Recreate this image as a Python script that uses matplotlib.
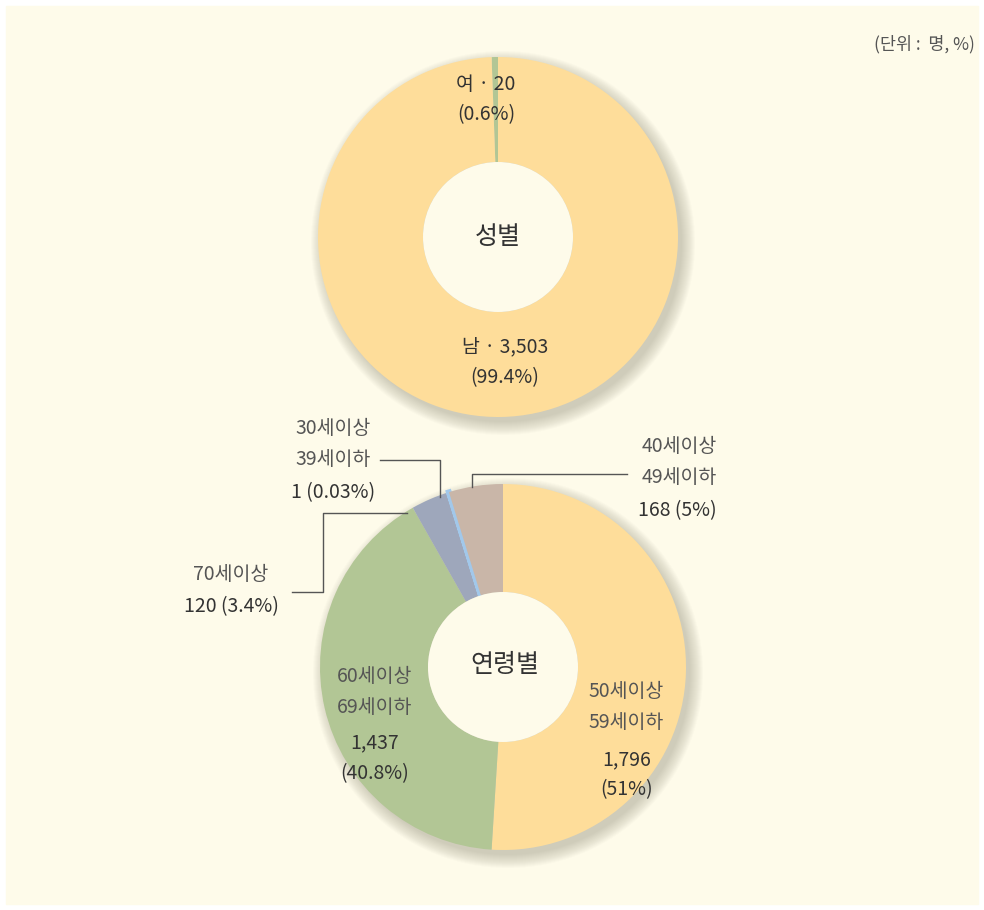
import matplotlib
matplotlib.use("Agg")
import matplotlib.pyplot as plt
from matplotlib.patches import Rectangle, Circle

plt.rcParams['font.family'] = ['Noto Sans CJK KR', 'DejaVu Sans']

# 성별
sex_labels = ['여', '남']
sex_values = [20, 3503]
sex_pct = ['0.6%', '99.4%']
sex_colors = ['#b2c695', '#fedd9a']

# 연령별 (clockwise from top)
age_labels = ['50세이상\n59세이하', '60세이상\n69세이하', '70세이상', '30세이상\n39세이하', '40세이상\n49세이하']
age_values = [1796, 1437, 120, 1, 168]
age_pct = ['51%', '40.8%', '3.4%', '0.03%', '5%']
age_colors = ['#fedd9a', '#b2c695', '#9ea7bb', '#a2c8ea', '#c9b6a8']

W, H = 984, 910
BG = '#fefbea'
TXT = '#333333'
SUB = '#555555'

fig = plt.figure(figsize=(W / 100, H / 100), dpi=100)
fig.patch.set_facecolor('white')
ax = fig.add_axes([0, 0, 1, 1])


def Y(y):
    return H - y


def shadow(cx, cy, r, rin):
    # soft drop shadow towards lower right, hole covered afterwards
    for k in range(14):
        ax.add_patch(Circle((cx + 5, cy - 6), r + 12 - k * 1.0, color='#6b6a55',
                            alpha=0.022, lw=0, zorder=1))
    ax.add_patch(Circle((cx, cy), rin, color=BG, lw=0, zorder=3))


ax.add_patch(Rectangle((6, 6), W - 12, H - 12, color=BG, zorder=0))

# top donut
c1 = (498, Y(237))
shadow(c1[0], c1[1], 180, 75)
ax.pie(sex_values, colors=sex_colors, startangle=90, counterclock=True,
       center=c1, radius=180,
       wedgeprops=dict(width=105, linewidth=0, zorder=2))

# bottom donut
c2 = (503, Y(667))
shadow(c2[0], c2[1], 183, 75)
wedges, _ = ax.pie(age_values, colors=age_colors, startangle=90, counterclock=False,
                   center=c2, radius=183,
                   wedgeprops=dict(width=108, linewidth=0, zorder=2))
# the 1-person slice is a hairline, give it an edge so it shows
wedges[3].set_edgecolor(age_colors[3])
wedges[3].set_linewidth(4)

ax.set_xlim(0, W)
ax.set_ylim(0, H)
ax.set_aspect('equal')
ax.axis('off')

fs = 14
ax.text(975, Y(44), '(단위 :  명, %)', ha='right', va='center', fontsize=12.5, color=SUB)

ax.text(c1[0], c1[1], '성별', ha='center', va='center', fontsize=18, color=TXT, zorder=5)
ax.text(c2[0] + 2, Y(665), '연령별', ha='center', va='center', fontsize=18, color=TXT, zorder=5)

# sex labels
ax.text(486, Y(85), f'{sex_labels[0]} · {sex_values[0]:,}', ha='center', va='center', fontsize=fs, color=TXT)
ax.text(486, Y(115), f'({sex_pct[0]})', ha='center', va='center', fontsize=fs, color=TXT)
ax.text(505, Y(347), f'{sex_labels[1]} · {sex_values[1]:,}', ha='center', va='center', fontsize=fs, color=TXT)
ax.text(505, Y(378), f'({sex_pct[1]})', ha='center', va='center', fontsize=fs, color=TXT)

# age labels inside
ax.text(375, Y(692), age_labels[1], ha='center', va='center', fontsize=fs, color=SUB, linespacing=1.6)
ax.text(375, Y(743), f'{age_values[1]:,}', ha='center', va='center', fontsize=fs, color=TXT)
ax.text(375, Y(774), f'({age_pct[1]})', ha='center', va='center', fontsize=fs, color=TXT)
ax.text(626, Y(707), age_labels[0], ha='center', va='center', fontsize=fs, color=SUB, linespacing=1.6)
ax.text(627, Y(760), f'{age_values[0]:,}', ha='center', va='center', fontsize=fs, color=TXT)
ax.text(627, Y(790), f'({age_pct[0]})', ha='center', va='center', fontsize=fs, color=TXT)

# age labels outside
ax.text(333, Y(444), age_labels[3], ha='center', va='center', fontsize=fs, color=SUB, linespacing=1.6)
ax.text(333, Y(493), f'{age_values[3]:,} ({age_pct[3]})', ha='center', va='center', fontsize=fs, color=TXT)
ax.text(679, Y(462), age_labels[4], ha='center', va='center', fontsize=fs, color=SUB, linespacing=1.6)
ax.text(677, Y(511), f'{age_values[4]:,} ({age_pct[4]})', ha='center', va='center', fontsize=fs, color=TXT)
ax.text(231, Y(574), age_labels[2], ha='center', va='center', fontsize=fs, color=SUB)
ax.text(231, Y(607), f'{age_values[2]:,} ({age_pct[2]})', ha='center', va='center', fontsize=fs, color=TXT)

# leader lines
lk = dict(color='#555555', lw=1, zorder=4)
ax.plot([380, 440, 440], [Y(460), Y(460), Y(497)], **lk)
ax.plot([627, 472, 472], [Y(474), Y(474), Y(487)], **lk)
ax.plot([292, 323, 323, 407], [Y(592), Y(592), Y(513), Y(513)], **lk)

fig.savefig('out.png', dpi=100, facecolor=fig.get_facecolor())
